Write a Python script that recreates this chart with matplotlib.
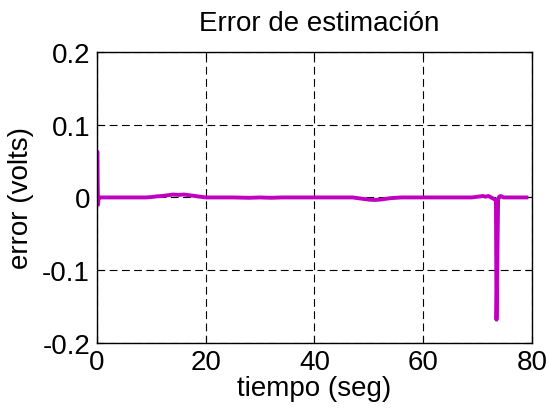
import matplotlib
matplotlib.use("Agg")
import matplotlib.pyplot as plt

plt.rcParams['font.family'] = ['Liberation Sans', 'DejaVu Sans']

# tiempo (seg) and estimation error (volts)
tiempo = [0.0, 0.05, 0.1, 0.2, 0.3, 0.5, 1.0, 3.0, 6.0, 9.0, 10.0, 11.0, 12.0,
          13.0, 14.0, 15.0, 16.0, 17.0, 18.0, 19.0, 20.0, 22.0, 25.0, 28.0,
          30.0, 32.0, 34.0, 36.0, 40.0, 44.0, 47.0, 48.0, 49.0, 50.0, 51.0,
          52.0, 53.0, 54.0, 56.0, 60.0, 64.0, 67.0, 69.0, 70.0, 70.5, 71.0,
          71.5, 72.0, 72.5, 73.0, 73.2, 73.4, 73.5, 73.6, 73.8, 74.0, 74.3,
          74.8, 75.5, 76.5, 77.5, 78.5, 79.0]
error = [0.0, 0.063, 0.03, -0.01, 0.0, 0.0, 0.0, 0.0, 0.0, 0.0, 0.0005,
         0.0015, 0.002, 0.003, 0.004, 0.0035, 0.004, 0.003, 0.002, 0.001,
         0.0, 0.0, 0.0, -0.0005, 0.0, -0.0005, 0.0, 0.0, 0.0, 0.0, 0.0,
         -0.001, -0.002, -0.003, -0.0035, -0.003, -0.002, -0.001, 0.0, 0.0,
         0.0, 0.0, 0.0, 0.001, 0.0015, 0.002, 0.001, 0.002, 0.0, -0.002,
         -0.003, -0.004, -0.168, -0.12, -0.003, 0.001, 0.002, 0.0, 0.0,
         0.0, 0.0, 0.0, 0.0]

fig = plt.figure(figsize=(5.49, 4.10), dpi=100)
ax = fig.add_axes([0.1767, 0.161, 0.792, 0.710])

ax.plot(tiempo, error, color='#C000C0', linewidth=2.8, solid_joinstyle='round')

ax.set_xlim(0, 80)
ax.set_ylim(-0.2, 0.2)
ax.set_xticks([0, 20, 40, 60, 80])
ax.set_yticks([-0.2, -0.1, 0, 0.1, 0.2])
ax.set_yticklabels(['-0.2', '-0.1', '0', '0.1', '0.2'])
ax.grid(True, color='black', linestyle=(0, (7, 4)), linewidth=0.8)
ax.tick_params(direction='in', top=True, right=True, labelsize=20, length=5)
ax.tick_params(axis='x', pad=4)
ax.tick_params(axis='y', pad=5)
for s in ax.spines.values():
    s.set_linewidth(1.0)

ax.set_title('Error de estimación', fontsize=20, pad=16, x=0.51)
ax.set_xlabel('tiempo (seg)', fontsize=20, labelpad=0)
ax.set_ylabel('error (volts)', fontsize=20, labelpad=6)

fig.savefig('out.png', dpi=100)
